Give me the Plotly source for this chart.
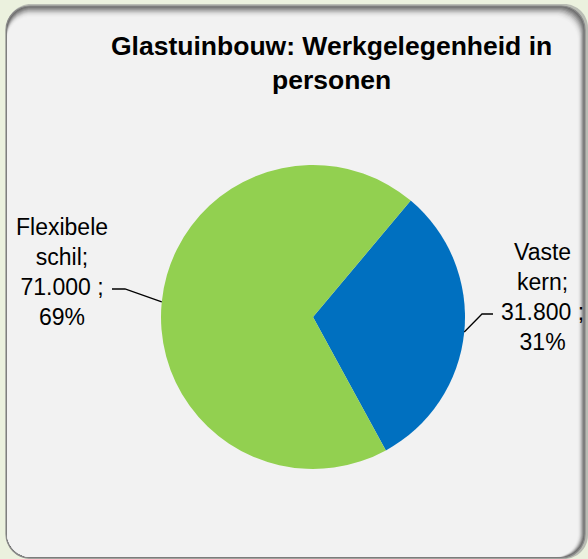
import math
import plotly.graph_objects as go

# ---- data ----
categories = ["Vaste kern", "Flexibele schil"]
values = [31800, 71000]
colors = ["#0070C0", "#92D050"]
title_text = "Glastuinbouw: Werkgelegenheid in<br>personen"

W, H = 588, 559

def px(x):
    return x / W

def py(y):
    return 1 - y / H

def rrect(x0, y0, x1, y1, r):
    k = 0.5523 * r
    pts = [
        f"M{px(x0 + r)},{py(y0)}",
        f"L{px(x1 - r)},{py(y0)}",
        f"C{px(x1 - r + k)},{py(y0)} {px(x1)},{py(y0 + r - k)} {px(x1)},{py(y0 + r)}",
        f"L{px(x1)},{py(y1 - r)}",
        f"C{px(x1)},{py(y1 - r + k)} {px(x1 - r + k)},{py(y1)} {px(x1 - r)},{py(y1)}",
        f"L{px(x0 + r)},{py(y1)}",
        f"C{px(x0 + r - k)},{py(y1)} {px(x0)},{py(y1 - r + k)} {px(x0)},{py(y1 - r)}",
        f"L{px(x0)},{py(y0 + r)}",
        f"C{px(x0)},{py(y0 + r - k)} {px(x0 + r - k)},{py(y0)} {px(x0 + r)},{py(y0)}",
        "Z",
    ]
    return " ".join(pts)

# pie geometry (pixels)
cx, cy, R = 313, 317, 152
rotation = 40

shapes = []
# outer shadow
shapes.append(dict(type="path", xref="paper", yref="paper", layer="below",
                   path=rrect(7, 4, 588, 559, 24), fillcolor="#b9bcb4", line=dict(width=0)))
# main frame
shapes.append(dict(type="path", xref="paper", yref="paper", layer="below",
                   path=rrect(6, 6, 585, 558, 24), fillcolor="#6e6e6e",
                   line=dict(color="#8a8a8a", width=1.2)))
grad = ["#7a7a7a", "#8c8c8c", "#a0a0a0", "#b4b4b4", "#c6c6c6", "#d6d6d6", "#e2e2e2", "#eaeaea", "#efefef", "#f2f2f2"]
for i, c in enumerate(grad):
    shapes.append(dict(type="path", xref="paper", yref="paper", layer="below",
                       path=rrect(7, 7 + i * 1.1, 584 - i * 0.7, 557, 24),
                       fillcolor=c, line=dict(width=0)))

# leader lines computed from slice mid-angles
total = sum(values)
angle = rotation
mids = []
for v in values:
    span = v / total * 360
    mids.append(angle + span / 2)
    angle += span

elbows = [((482, 314), (493, 314)), ((125, 289), (112, 289))]
label_pos = [(542, 297), (62, 272)]
annotations = []
for i, (cat, v) in enumerate(zip(categories, values)):
    a = math.radians(mids[i])
    ex, ey = cx + R * math.sin(a), cy - R * math.cos(a)
    (bx, by), (tx, ty) = elbows[i]
    shapes.append(dict(type="path", xref="paper", yref="paper",
                       path=f"M{px(ex)},{py(ey)} L{px(bx)},{py(by)} L{px(tx)},{py(ty)}",
                       line=dict(color="#000000", width=1.3)))
    pct = round(v / total * 100)
    num = f"{v:,}".replace(",", ".")
    txt = cat.replace(" ", "<br>") + f";<br>{num} ;<br>{pct}%"
    lx, ly = label_pos[i]
    annotations.append(dict(x=px(lx), y=py(ly), xref="paper", yref="paper",
                            text=txt, showarrow=False, align="center",
                            xanchor="center", yanchor="middle",
                            font=dict(family="Liberation Sans, Arial", size=23, color="#000000")))

annotations.append(dict(x=px(331), y=py(63), xref="paper", yref="paper",
                        text=f"<b>{title_text}</b>", showarrow=False, align="center",
                        xanchor="center", yanchor="middle",
                        font=dict(family="Liberation Sans, Arial", size=26.5, color="#000000")))

fig = go.Figure(go.Pie(
    labels=categories, values=values, sort=False, direction="clockwise",
    rotation=rotation, marker=dict(colors=colors, line=dict(width=0)),
    textinfo="none", hoverinfo="skip", showlegend=False,
    domain=dict(x=[px(cx - R), px(cx + R)], y=[py(cy + R), py(cy - R)]),
))

fig.update_layout(
    width=W, height=H, margin=dict(l=0, r=0, t=0, b=0),
    paper_bgcolor="#EBF1DE", plot_bgcolor="rgba(0,0,0,0)",
    shapes=shapes, annotations=annotations, showlegend=False,
)

fig.write_html("out.html", config={"displayModeBar": False},
               post_script="document.body.style.margin='0';document.body.style.overflow='hidden';")
